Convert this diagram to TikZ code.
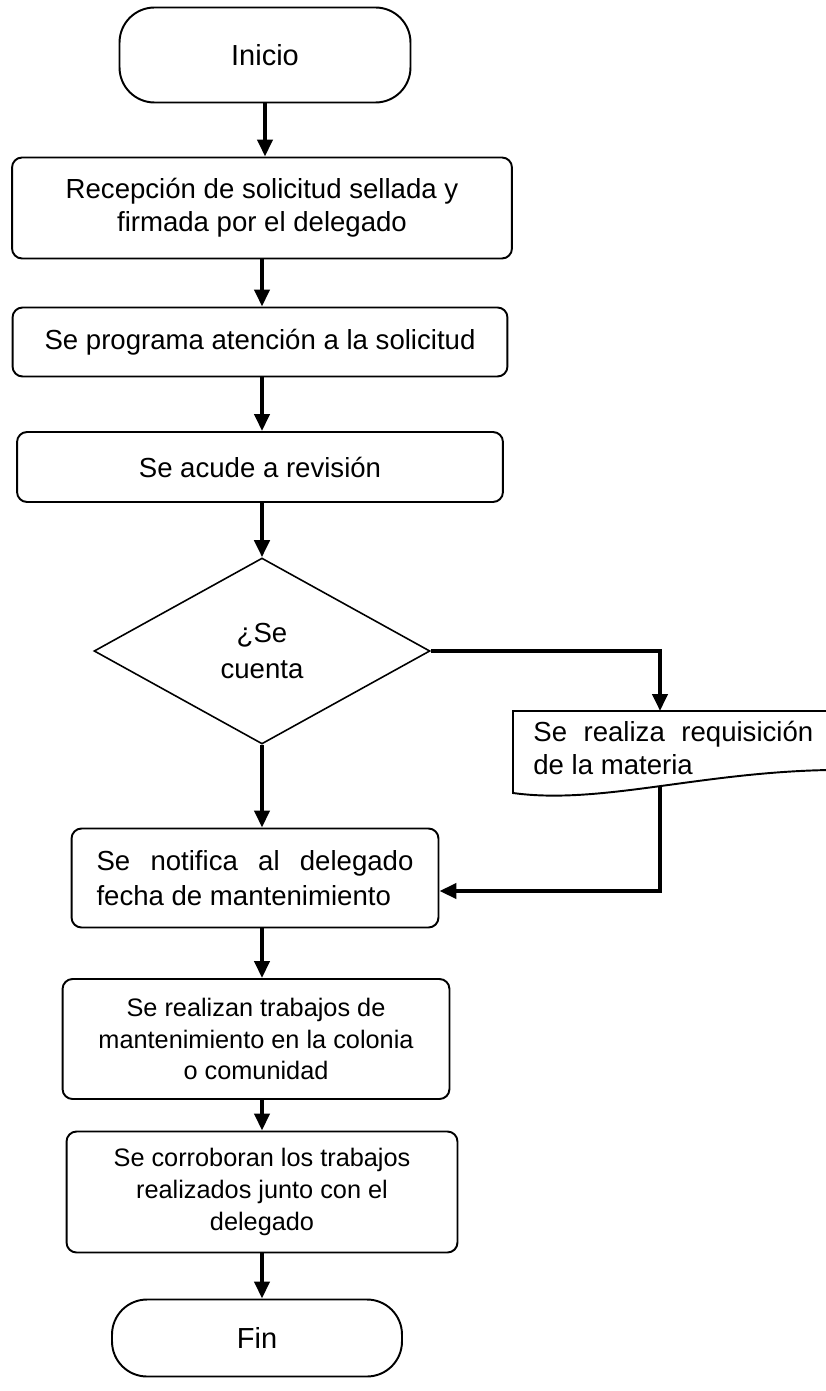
\documentclass[tikz,border=0pt]{standalone}
\usepackage{fontspec}
\setmainfont{Liberation Sans}
\usetikzlibrary{arrows.meta}
\usetikzlibrary{shapes.geometric}

\begin{document}
\begin{tikzpicture}[x=0.02cm,y=-0.02cm,
  proc/.style={draw,rounded corners=0.2cm,line width=1.1pt,inner sep=0pt,align=center,font=\fontsize{15.7}{18.7}\selectfont},
  term/.style={draw,rounded corners=0.7cm,line width=1.1pt,inner sep=0pt,font=\fontsize{16.5}{19}\selectfont},
  decis/.style={draw,diamond,line width=0.9pt,inner sep=0pt,align=center,font=\fontsize{15.7}{20}\selectfont},
  flow/.style={line width=2.3pt,-{Triangle[length=0.34cm,width=0.3cm]}}]
\useasboundingbox (0,0) rectangle (825,1391);

\coordinate (col) at (262,0);

\node[term,minimum width=5.82cm,minimum height=1.9cm] (inicio) at (265,55) {Inicio};
\node[proc,minimum width=10cm,minimum height=2.02cm] (recep) at (262,208) {Recepción de solicitud sellada y\\firmada por el delegado};
\node[proc,minimum width=9.9cm,minimum height=1.38cm] (prog) at (260,342) {Se programa atención a la solicitud};
\node[proc,minimum width=9.72cm,minimum height=1.4cm] (acude) at (260,467) {Se acude a revisión};
\node[decis,minimum width=6.72cm,minimum height=3.72cm] (cuenta) at (262,651) {¿Se\\cuenta};
\node[proc,minimum width=7.34cm,minimum height=1.98cm,text width=6.34cm,align=justify,font=\fontsize{15.7}{19.8}\selectfont] (notif) at (255,878) {Se notifica al delegado fecha de mantenimiento};
\node[proc,minimum width=7.74cm,minimum height=2.4cm,font=\fontsize{14.4}{17.9}\selectfont] (trab) at (256,1039) {Se realizan trabajos de\\mantenimiento en la colonia\\o comunidad};
\node[proc,minimum width=7.82cm,minimum height=2.42cm,font=\fontsize{14.4}{18.1}\selectfont] (corro) at (262,1192) {Se corroboran los trabajos\\realizados junto con el\\delegado};
\node[term,minimum width=5.8cm,minimum height=1.54cm] (fin) at (257,1338) {Fin};

% documento (se sale por la derecha)
\draw[line width=1.1pt] (830,711) -- (513,711) -- (513,793) .. controls (600,805) and (700,772) .. (830,770);
\node[anchor=north west,inner sep=0pt,text width=5.6cm,align=justify,font=\fontsize{15.7}{18.7}\selectfont] (req) at (533,721) {Se realiza requisición de la materia};
\coordinate (reqin) at (660,711);
\coordinate (reqout) at (660,786);
\coordinate (back) at (660,891);

\draw[flow] (inicio.south) -- (inicio.south |- recep.north);
\draw[flow] (recep.south -| col) -- (prog.north -| col);
\draw[flow] (prog.south -| col) -- (acude.north -| col);
\draw[flow] (acude.south -| col) -- (cuenta.north);
\draw[flow] (cuenta.south) -- (cuenta.south |- notif.north);
\draw[flow] (cuenta.east) -| (reqin);
\draw[flow] (reqout) -- (back) -- (back -| notif.east);
\draw[flow] (notif.south -| col) -- (trab.north -| col);
\draw[flow] (trab.south -| col) -- (corro.north -| col);
\draw[flow] (corro.south -| col) -- (fin.north -| col);
\end{tikzpicture}
\end{document}
